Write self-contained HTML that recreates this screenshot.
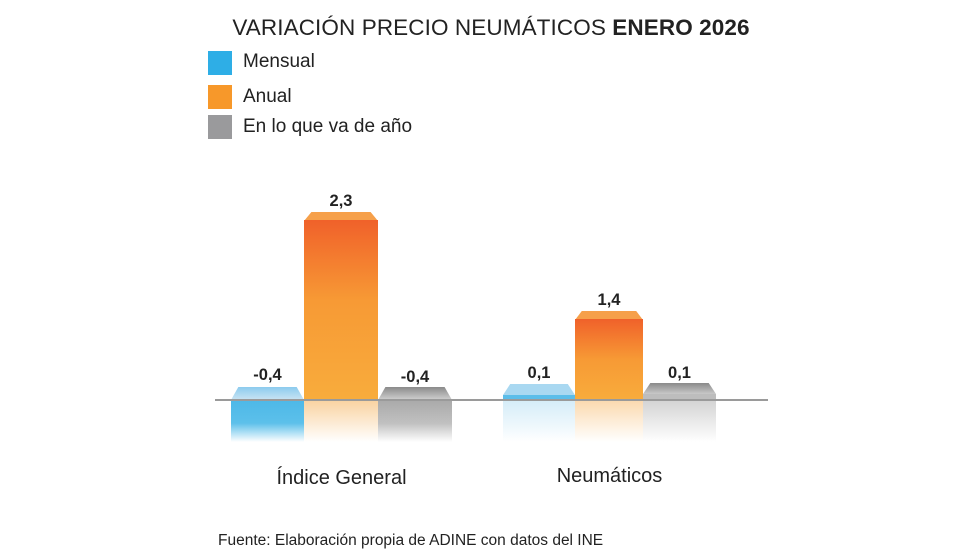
<!DOCTYPE html>
<html><head><meta charset="utf-8"><style>
body{margin:0;width:980px;height:560px;background:#fff;position:relative;overflow:hidden;font-family:"Liberation Sans",sans-serif;color:#222}
.a{position:absolute}
.t{font-size:22.5px;left:0;width:982px;text-align:center;top:15px;letter-spacing:0.1px}
.sw{width:24px;height:24px}
.lg{font-size:19px}
.v{font-weight:bold;font-size:16.5px;text-align:center}
.cap{clip-path:polygon(10% 0,90% 0,100% 100%,0 100%)}
</style></head><body>
<div class="a t">VARIACIÓN PRECIO NEUMÁTICOS <b>ENERO 2026</b></div>
<div class="a sw" style="left:208px;top:51px;background:#2eaee6"></div><div class="a lg" style="left:243px;top:51px">Mensual</div>
<div class="a sw" style="left:208px;top:85px;background:#f7982a"></div><div class="a lg" style="left:243px;top:86px">Anual</div>
<div class="a sw" style="left:208px;top:115px;background:#9a9a9c"></div><div class="a lg" style="left:243px;top:116px">En lo que va de año</div>

<div class="a cap" style="left:231px;top:387px;width:73px;height:13px;background:linear-gradient(#8ccbee,#c9e4f3)"></div>
<div class="a" style="left:231px;top:400px;width:73px;height:42px;background:linear-gradient(#4db8e8 0%,#5cc0ea 55%,rgba(255,255,255,1) 100%)"></div>
<div class="a cap" style="left:304px;top:212px;width:74px;height:9px;background:#f6a04a"></div>
<div class="a" style="left:304px;top:220px;width:74px;height:180px;background:linear-gradient(#f0612a,#f79a35 45%,#f8ac3c)"></div>
<div class="a" style="left:304px;top:400px;width:74px;height:42px;background:linear-gradient(#f9d2a0,#fff)"></div>
<div class="a cap" style="left:378px;top:387px;width:74px;height:13px;background:linear-gradient(#8a8a8a,#d0d0d0)"></div>
<div class="a" style="left:378px;top:400px;width:74px;height:42px;background:linear-gradient(#a9a9a9,#c0c0c0 55%,#fff)"></div>
<div class="a v" style="left:231px;top:366px;width:73px">-0,4</div>
<div class="a v" style="left:304px;top:192px;width:74px">2,3</div>
<div class="a v" style="left:378px;top:368px;width:74px">-0,4</div>

<div class="a cap" style="left:503px;top:384px;width:72px;height:11px;background:#a9d8f1"></div>
<div class="a" style="left:503px;top:395px;width:72px;height:5px;background:#5bbde9"></div>
<div class="a" style="left:503px;top:400px;width:72px;height:42px;background:linear-gradient(#d4ecf8,#fff)"></div>
<div class="a cap" style="left:575px;top:311px;width:68px;height:9px;background:#f6a04a"></div>
<div class="a" style="left:575px;top:319px;width:68px;height:81px;background:linear-gradient(#f0612a,#f79a35 50%,#f8ac3c)"></div>
<div class="a" style="left:575px;top:400px;width:68px;height:42px;background:linear-gradient(#fbd9ae,#fff)"></div>
<div class="a cap" style="left:643px;top:383px;width:73px;height:11px;background:linear-gradient(#8a8a8a,#c8c8c8)"></div>
<div class="a" style="left:643px;top:394px;width:73px;height:6px;background:#bdbdbd"></div>
<div class="a" style="left:643px;top:400px;width:73px;height:42px;background:linear-gradient(#d3d3d3,#fff)"></div>
<div class="a v" style="left:503px;top:364px;width:72px">0,1</div>
<div class="a v" style="left:575px;top:291px;width:68px">1,4</div>
<div class="a v" style="left:643px;top:364px;width:73px">0,1</div>

<div class="a" style="left:215px;top:399px;width:553px;height:2px;background:#9a9a9a"></div>

<div class="a lg" style="left:231px;top:467px;width:221px;text-align:center;font-size:20px">Índice General</div>
<div class="a lg" style="left:503px;top:465px;width:213px;text-align:center;font-size:20px">Neumáticos</div>
<div class="a" style="left:218px;top:532px;font-size:15.5px">Fuente: Elaboración propia de ADINE con datos del INE</div>
</body></html>
